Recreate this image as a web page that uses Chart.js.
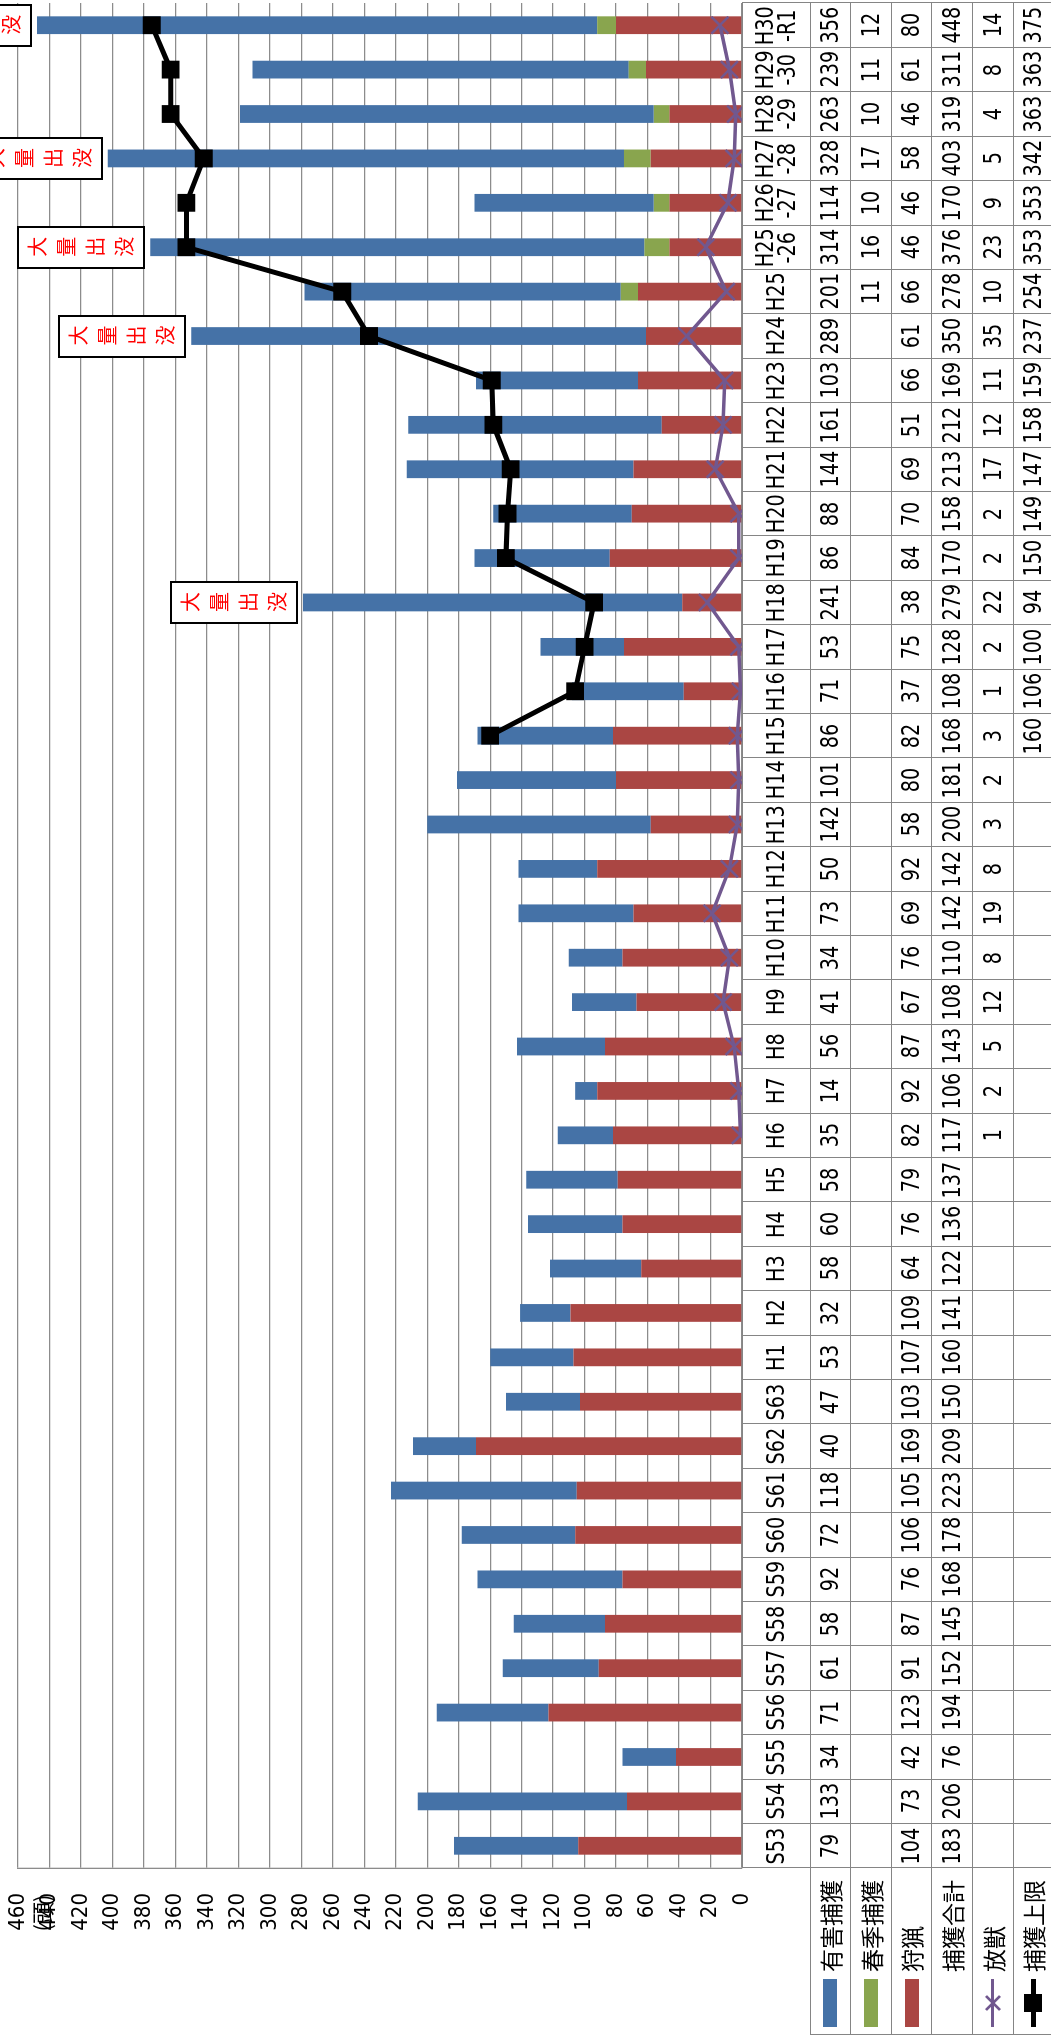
<!DOCTYPE html>
<html>
<head>
<meta charset="utf-8">
<script src="https://cdn.jsdelivr.net/npm/chart.js@4.4.1/dist/chart.umd.min.js"></script>
<style>
  html, body { margin: 0; padding: 0; background: #fff; width: 1051px; height: 2038px; overflow: hidden; }
  /* the chart is laid out landscape and turned a quarter turn onto the portrait page */
  #sheet { position: absolute; left: 0; top: 0; width: 2038px; height: 1051px; background: #fff;
           transform-origin: 0 0; transform: translateY(2038px) rotate(-90deg); overflow: hidden; }
  #chart { position: absolute; left: 0; top: 0; }
  .ln { position: absolute; background: #858585; }
  .cell { position: absolute; box-sizing: border-box; display: flex; align-items: center; justify-content: center;
          font-family: 'DejaVu Sans', sans-serif; font-size: 25px; line-height: 22px; color: #000;
          text-align: center; white-space: nowrap; }
  .cell span { display: inline-block; transform: scaleX(0.77); }
  .legend { position: absolute; box-sizing: border-box; font-family: 'Noto Sans CJK JP', sans-serif;
            font-size: 23px; color: #000; white-space: nowrap; display: flex; align-items: center; }
  .swatch { position: absolute; }
  .note { position: absolute; box-sizing: border-box; background: #fff; border: 2px solid #000;
          display: flex; align-items: center; justify-content: center; overflow: visible; }
  .note span { writing-mode: vertical-rl; white-space: nowrap; font-family: 'Noto Sans CJK JP', sans-serif;
               font-size: 20px; letter-spacing: 9px; transform: translateY(4.5px); color: #ff0000;
               line-height: 1; flex: none; }
  .unit { position: absolute; font-family: 'Noto Sans CJK JP', sans-serif; font-size: 22px; color: #000;
          line-height: 1; white-space: nowrap; display: flex; align-items: center; justify-content: center; }
</style>
</head>
<body>
<div id="sheet">
  <canvas id="chart" width="2038" height="1051"></canvas>
</div>
<script>
// fiscal years
const categories = ['S53','S54','S55','S56','S57','S58','S59','S60','S61','S62','S63',
  'H1','H2','H3','H4','H5','H6','H7','H8','H9','H10','H11','H12','H13','H14','H15',
  'H16','H17','H18','H19','H20','H21','H22','H23','H24','H25','H25-26','H26-27',
  'H27-28','H28-29','H29-30','H30-R1'];

// 有害捕獲
const pestControl = [79,133,34,71,61,58,92,72,118,40,47,53,32,58,60,58,35,14,56,41,34,73,50,142,101,86,
  71,53,241,86,88,144,161,103,289,201,314,114,328,263,239,356];
// 春季捕獲
const springCatch = [null,null,null,null,null,null,null,null,null,null,null,null,null,null,null,null,null,null,
  null,null,null,null,null,null,null,null,null,null,null,null,null,null,null,null,null,11,16,10,17,10,11,12];
// 狩猟
const hunting = [104,73,42,123,91,87,76,106,105,169,103,107,109,64,76,79,82,92,87,67,76,69,92,58,80,82,
  37,75,38,84,70,69,51,66,61,66,46,46,58,46,61,80];
// 捕獲合計
const totals = [183,206,76,194,152,145,168,178,223,209,150,160,141,122,136,137,117,106,143,108,110,142,142,
  200,181,168,108,128,279,170,158,213,212,169,350,278,376,170,403,319,311,448];
// 放獣
const released = [null,null,null,null,null,null,null,null,null,null,null,null,null,null,null,null,
  1,2,5,12,8,19,8,3,2,3,1,2,22,2,2,17,12,11,35,10,23,9,5,4,8,14];
// 捕獲上限
const captureLimit = [null,null,null,null,null,null,null,null,null,null,null,null,null,null,null,null,null,
  null,null,null,null,null,null,null,null,160,106,100,94,150,149,147,158,159,237,254,353,353,342,363,363,375];

// value axis
const valueMin = 0, valueMax = 460, valueStep = 20;

// years marked 大量出没
const outbreakYears = ['H18','H24','H25-26','H27-28','H30-R1'];

const BLUE = '#4572A7', GREEN = '#89A54E', RED = '#AA4643', PURPLE = '#71588F';
const numFont = "'DejaVu Sans Condensed', 'DejaVu Sans', sans-serif";

// plot rectangle inside the 2038 x 1051 sheet
const PLOT = { left: 170, top: 18, right: 2035, bottom: 742 };

const chart = new Chart(document.getElementById('chart'), {
  type: 'bar',
  data: {
    labels: categories,
    datasets: [
      { type: 'line', label: '捕獲上限', data: captureLimit, stack: 'limit', order: 0,
        borderColor: '#000', backgroundColor: '#000', borderWidth: 5,
        pointStyle: 'rect', pointRadius: 12.6, pointBorderWidth: 0, pointBackgroundColor: '#000' },
      { type: 'line', label: '放獣', data: released, stack: 'release', order: 1,
        borderColor: PURPLE, backgroundColor: PURPLE, borderWidth: 3.5,
        pointStyle: 'crossRot', pointRadius: 12, pointBorderWidth: 2.5, pointBorderColor: PURPLE },
      { label: '狩猟', data: hunting, backgroundColor: RED, order: 2 },
      { label: '春季捕獲', data: springCatch, backgroundColor: GREEN, order: 2 },
      { label: '有害捕獲', data: pestControl, backgroundColor: BLUE, order: 2 }
    ]
  },
  options: {
    responsive: false,
    animation: false,
    devicePixelRatio: 1,
    layout: { autoPadding: false,
              padding: { left: 0, top: PLOT.top, right: 2038 - PLOT.right, bottom: 1051 - PLOT.bottom } },
    datasets: { bar: { barPercentage: 0.4, categoryPercentage: 1 } },
    plugins: { legend: { display: false }, tooltip: { enabled: false }, title: { display: false } },
    scales: {
      x: {
        stacked: true, offset: true,
        grid: { display: false, drawTicks: false },
        ticks: { display: false },
        border: { display: false },
        afterFit(scale) { scale.height = 0; }
      },
      y: {
        stacked: true, min: valueMin, max: valueMax,
        ticks: { stepSize: valueStep, padding: 0, color: '#000', font: { family: numFont, size: 22 } },
        // invisible tick marks keep the labels clear of the axis line
        grid: { color: '#8c8c8c', lineWidth: 1.3, drawTicks: true, tickLength: 25, tickColor: 'rgba(0,0,0,0)' },
        border: { display: true, color: '#8c8c8c', width: 1.3 },
        afterFit(scale) { scale.width = PLOT.left; }
      }
    }
  }
});

// ---- data table under the plot, columns aligned with the category bands ----
const sheet = document.getElementById('sheet');
const area = chart.chartArea;
const xs = chart.scales.x, ys = chart.scales.y;
const band = (area.right - area.left) / categories.length;
const legendLeft = 3;
const headerH = 68, rowH = 40.6;
const rowTop = k => area.bottom + headerH + rowH * k;

function box(cls, left, top, width, height, html) {
  const d = document.createElement('div');
  d.className = cls;
  d.style.left = left + 'px';
  d.style.top = top + 'px';
  d.style.width = width + 'px';
  d.style.height = height + 'px';
  if (html != null) d.innerHTML = html;
  sheet.appendChild(d);
  return d;
}

const rows = [
  { name: '有害捕獲', values: pestControl, key: 'bar', color: BLUE },
  { name: '春季捕獲', values: springCatch, key: 'bar', color: GREEN },
  { name: '狩猟', values: hunting, key: 'bar', color: RED },
  { name: '捕獲合計', values: totals, key: 'none' },
  { name: '放獣', values: released, key: 'cross', color: PURPLE },
  { name: '捕獲上限', values: captureLimit, key: 'square', color: '#000' }
];
const tableBottom = rowTop(rows.length);

// header row: fiscal year labels
categories.forEach((c, i) => {
  const cx = xs.getPixelForValue(i);
  const text = c.split(/(?=-)/).join('<br>');
  box('cell', cx - band / 2, area.bottom, band, headerH, '<span>' + text + '</span>');
});

// value rows
rows.forEach((r, k) => {
  r.values.forEach((v, i) => {
    if (v == null) return;
    const cx = xs.getPixelForValue(i);
    box('cell', cx - band / 2, rowTop(k), band, rowH, '<span>' + v + '</span>');
  });
  // legend cell
  const top = rowTop(k), mid = top + rowH / 2;
  box('legend', 66, top, area.left - 66, rowH, r.name);
  if (r.key === 'bar') {
    const s = box('swatch', 11, mid - 7, 48, 14);
    s.style.background = r.color;
  } else if (r.key === 'cross') {
    const s = box('swatch', 11, mid - 1.75, 48, 3.5);
    s.style.background = r.color;
    box('swatch', 26, mid - 9, 18, 18,
      '<svg width="18" height="18"><path d="M2 2L16 16M16 2L2 16" stroke="' + r.color + '" stroke-width="2.5"/></svg>');
  } else if (r.key === 'square') {
    const s = box('swatch', 11, mid - 2.5, 48, 5);
    s.style.background = r.color;
    const q = box('swatch', 26, mid - 9, 18, 18);
    q.style.background = r.color;
  }
});

// grid lines of the table
function hline(x1, x2, y) { box('ln', x1, y - 0.5, x2 - x1, 1); }
function vline(x, y1, y2) { box('ln', x - 0.5, y1, 1, y2 - y1); }
hline(area.left, area.right, area.bottom);
for (let k = 0; k <= rows.length; k++) hline(legendLeft, area.right, rowTop(k));
for (let i = 0; i <= categories.length; i++) vline(area.left + band * i, area.bottom, tableBottom);
vline(legendLeft, rowTop(0), tableBottom);

// ---- 大量出没 call-outs above the marked years ----
outbreakYears.forEach(year => {
  const i = categories.indexOf(year);
  const cx = xs.getPixelForValue(i);
  const topOfBar = ys.getPixelForValue(totals[i]);
  const h = 128, w = 43;
  box('note', cx - w / 2, topOfBar - 5 - h, w, h, '<span>大量出没</span>');
});

// unit label near the top of the value axis
box('unit', 100, 26, 50, 30, '(頭)');
</script>
</body>
</html>
